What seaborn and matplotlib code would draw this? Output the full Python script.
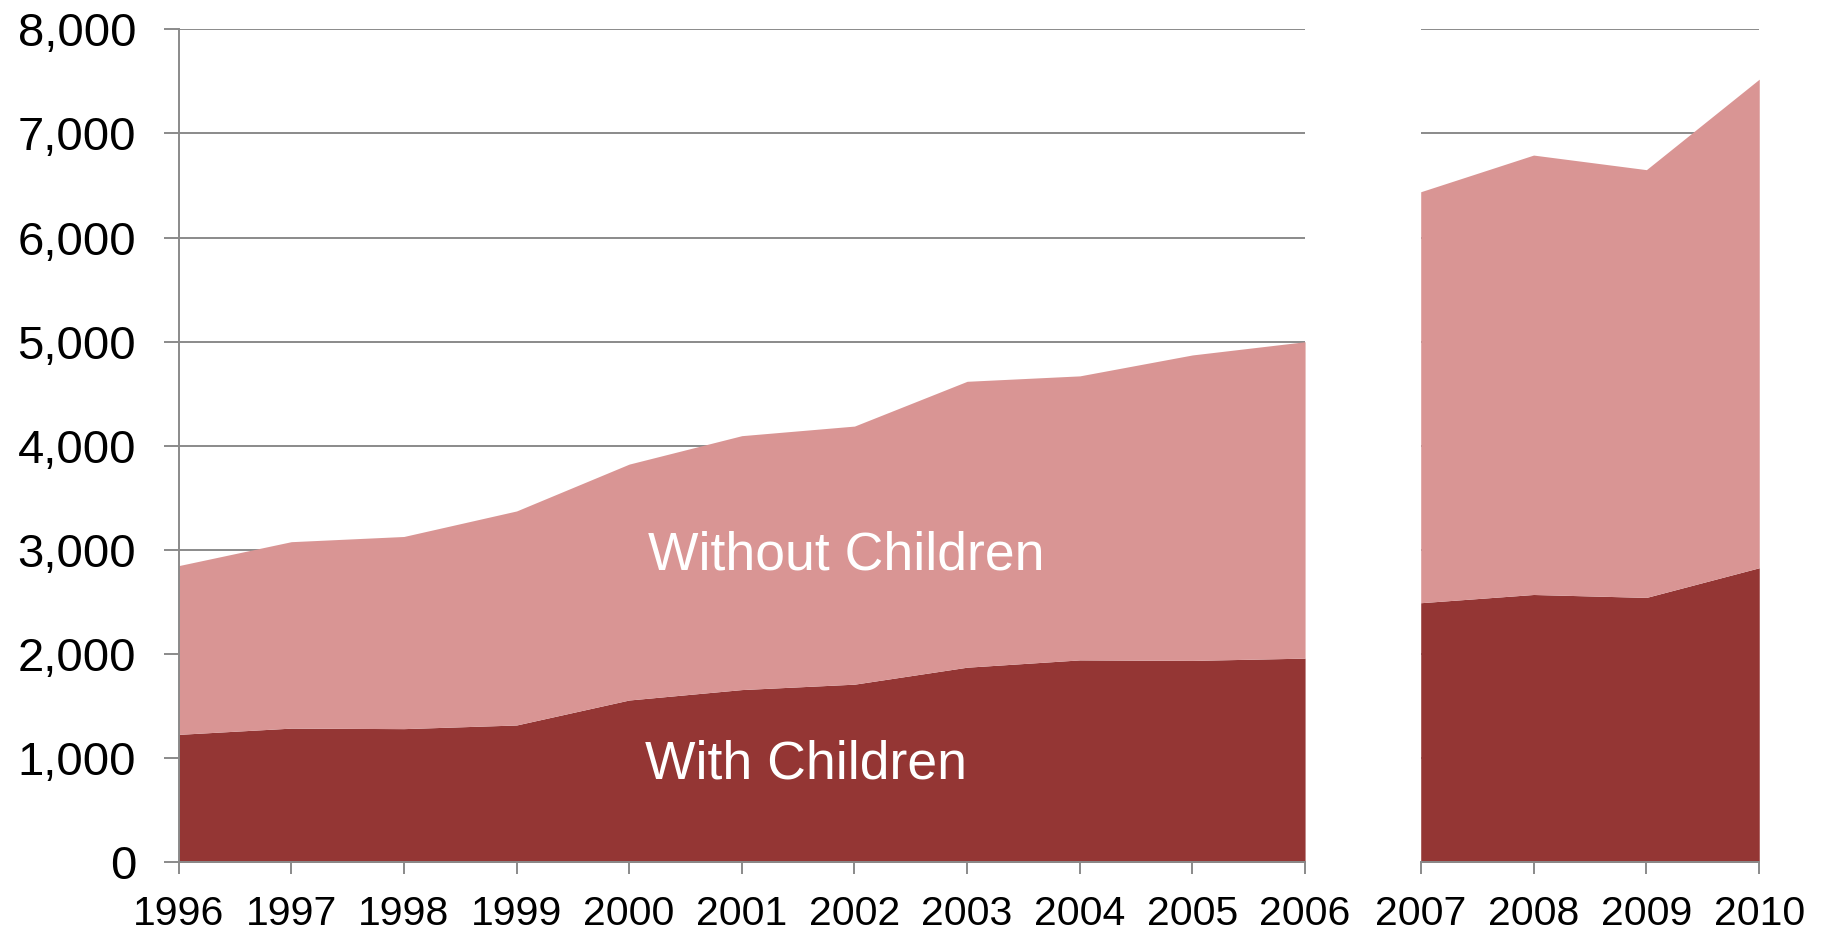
import matplotlib
matplotlib.use("Agg")
import matplotlib.pyplot as plt
import matplotlib.ticker as mticker
import pandas as pd
import seaborn as sns

# data (raw counts)
years_a = [1996, 1997, 1998, 1999, 2000, 2001, 2002, 2003, 2004, 2005, 2006]
years_b = [2007, 2008, 2009, 2010]
with_children_a = [1230, 1290, 1285, 1320, 1560, 1660, 1712, 1875, 1945, 1940, 1962]
with_children_b = [2494, 2573, 2545, 2830]
without_children_a = [1620, 1790, 1845, 2055, 2265, 2438, 2478, 2745, 2727, 2933, 3038]
without_children_b = [3946, 4219, 4107, 4691]
y_ticks = [0, 1000, 2000, 3000, 4000, 5000, 6000, 7000, 8000]

DARK = "#943634"
LIGHT = "#D99594"
GRID = "#8A8A8A"

sns.set_theme(style="white")
plt.rcParams["font.family"] = ["Liberation Sans", "DejaVu Sans"]

df_a = pd.DataFrame({"year": years_a, "with": with_children_a, "without": without_children_a})
df_b = pd.DataFrame({"year": years_b, "with": with_children_b, "without": without_children_b})

fig = plt.figure(figsize=(18.24, 9.32), dpi=100)
bottom, top = 0.0746, 0.9686
ax_a = fig.add_axes([0.0979, bottom, 0.7155 - 0.0979, top - bottom])
ax_b = fig.add_axes([0.7789, bottom, 0.9645 - 0.7789, top - bottom])


def draw_panel(ax, df, years):
    ax.stackplot(df["year"], df["with"], df["without"], colors=[DARK, LIGHT],
                 linewidth=0, zorder=3)
    ax.set_xlim(years[0], years[-1])
    ax.set_ylim(0, 8000)
    ax.set_yticks(y_ticks)
    ax.set_xticks(years)
    ax.set_xticklabels([str(y) for y in years])
    ax.grid(axis="y", color=GRID, linewidth=1.4, zorder=1)
    ax.grid(axis="x", visible=False)
    ax.set_axisbelow(True)
    for side in ["top", "right"]:
        ax.spines[side].set_visible(False)
    ax.spines["bottom"].set_color(GRID)
    ax.spines["bottom"].set_linewidth(1.4)
    ax.spines["bottom"].set_zorder(4)
    ax.tick_params(axis="x", bottom=True, length=8.6, width=1.4, color=GRID,
                   labelsize=29.5, pad=15, labelcolor="black")
    ax.set_xlabel("")
    ax.set_ylabel("")


draw_panel(ax_a, df_a, years_a)
draw_panel(ax_b, df_b, years_b)

ax_a.spines["left"].set_color(GRID)
ax_a.spines["left"].set_linewidth(1.4)
ax_a.spines["left"].set_zorder(4)
ax_a.tick_params(axis="y", left=True, length=10.6, width=1.4, color=GRID,
                 labelsize=34, pad=20, labelcolor="black")
ax_a.yaxis.set_major_formatter(mticker.StrMethodFormatter("{x:,.0f}"))

ax_b.spines["left"].set_visible(False)
ax_b.tick_params(axis="y", left=False, labelleft=False)

ax_a.text(2001.93, 2945, "Without Children", color="white", fontsize=38.5,
          ha="center", va="center", zorder=5)
ax_a.text(2001.57, 940, "With Children", color="white", fontsize=38.5,
          ha="center", va="center", zorder=5)

fig.savefig("out.png", dpi=100)
